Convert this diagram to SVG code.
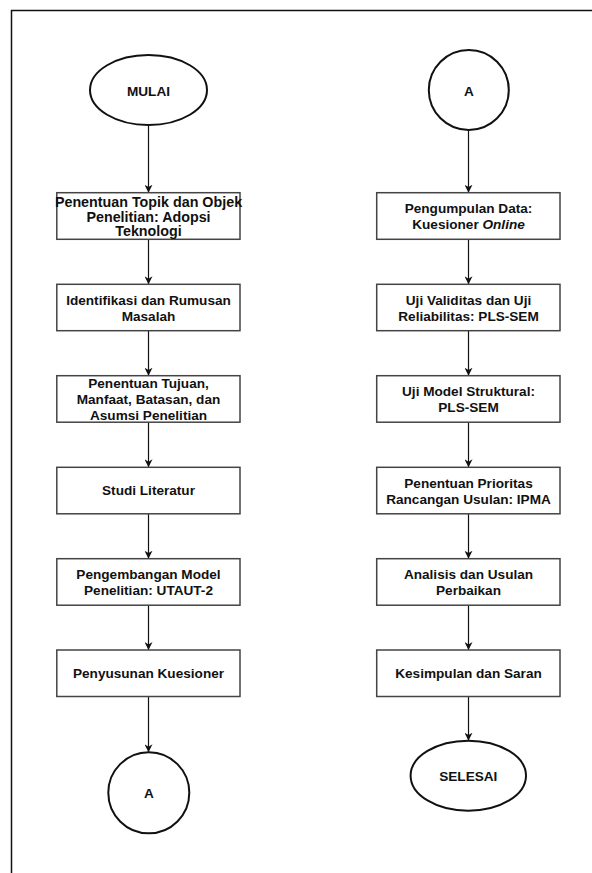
<svg xmlns="http://www.w3.org/2000/svg" width="592" height="873" viewBox="0 0 592 873">
<style>
.box{fill:#fff;stroke:#444;stroke-width:1.5}
.term{fill:#fff;stroke:#111;stroke-width:2}
.t{font-family:"Liberation Sans",Arial,Helvetica,sans-serif;font-weight:bold;font-size:13.6px;fill:#111;text-anchor:middle}
.big{font-size:14.3px}
.c{stroke:#111;stroke-width:1.2;fill:none;marker-end:url(#ah)}
</style>
<defs>
<marker id="ah" viewBox="0 0 10 10" refX="10" refY="5" markerWidth="8" markerHeight="8" markerUnits="userSpaceOnUse" orient="auto">
<path d="M0,0 L10,5 L0,10 L3,5 Z" fill="#111"/>
</marker>
</defs>
<rect width="592" height="873" fill="#fff"/>
<path d="M11.5,873 L11.5,10.5 L592,10.5" fill="none" stroke="#111" stroke-width="1.5"/>

<g id="connectors">
<line class="c" x1="148.5" y1="125" x2="148.5" y2="192.7"/>
<line class="c" x1="148.5" y1="239.3" x2="148.5" y2="284.3"/>
<line class="c" x1="148.5" y1="330.7" x2="148.5" y2="375.7"/>
<line class="c" x1="148.5" y1="422.2" x2="148.5" y2="467.3"/>
<line class="c" x1="148.5" y1="513.8" x2="148.5" y2="558.7"/>
<line class="c" x1="148.5" y1="605.2" x2="148.5" y2="650"/>
<line class="c" x1="148.5" y1="696.5" x2="148.5" y2="752.3"/>
<line class="c" x1="468.5" y1="130" x2="468.5" y2="192.7"/>
<line class="c" x1="468.5" y1="239.3" x2="468.5" y2="284.3"/>
<line class="c" x1="468.5" y1="330.7" x2="468.5" y2="375.7"/>
<line class="c" x1="468.5" y1="422.2" x2="468.5" y2="467.3"/>
<line class="c" x1="468.5" y1="513.8" x2="468.5" y2="558.7"/>
<line class="c" x1="468.5" y1="605.2" x2="468.5" y2="650"/>
<line class="c" x1="468.5" y1="696.5" x2="468.5" y2="740.7"/>
</g>

<g id="mulai">
<ellipse class="term" cx="148.5" cy="90" rx="58.5" ry="35"/>
<text class="t" x="148.5" y="95.5">MULAI</text>
</g>
<g id="topik">
<rect class="box" x="56.8" y="192.7" width="183.2" height="46.6"/>
<text class="t big" x="148.5" y="206.7">Penentuan Topik dan Objek</text>
<text class="t big" x="148.5" y="221.7">Penelitian: Adopsi</text>
<text class="t big" x="148.5" y="236.2">Teknologi</text>
</g>
<g id="identifikasi">
<rect class="box" x="56.8" y="284.3" width="183.2" height="46.4"/>
<text class="t" x="148.5" y="304.8">Identifikasi dan Rumusan</text>
<text class="t" x="148.5" y="320.8">Masalah</text>
</g>
<g id="tujuan">
<rect class="box" x="56.8" y="375.7" width="183.2" height="46.5"/>
<text class="t" x="148.5" y="388">Penentuan Tujuan,</text>
<text class="t" x="148.5" y="404">Manfaat, Batasan, dan</text>
<text class="t" x="148.5" y="419.7">Asumsi Penelitian</text>
</g>
<g id="literatur">
<rect class="box" x="56.8" y="467.3" width="183.2" height="46.5"/>
<text class="t" x="148.5" y="494.8">Studi Literatur</text>
</g>
<g id="model">
<rect class="box" x="56.8" y="558.7" width="183.2" height="46.5"/>
<text class="t" x="148.5" y="578.5">Pengembangan Model</text>
<text class="t" x="148.5" y="594.5">Penelitian: UTAUT-2</text>
</g>
<g id="kuesioner">
<rect class="box" x="56.8" y="650" width="183.2" height="46.5"/>
<text class="t" x="148.5" y="677.8">Penyusunan Kuesioner</text>
</g>
<g id="a-out">
<circle class="term" cx="148.8" cy="792.8" r="40.5"/>
<text class="t" x="148.8" y="798">A</text>
</g>

<g id="a-in">
<circle class="term" cx="468.8" cy="90" r="40"/>
<text class="t" x="468.8" y="96">A</text>
</g>
<g id="pengumpulan">
<rect class="box" x="376.7" y="192.7" width="183.3" height="46.6"/>
<text class="t" x="468.5" y="213.2">Pengumpulan Data:</text>
<text class="t" x="468.5" y="229.2">Kuesioner <tspan font-style="italic">Online</tspan></text>
</g>
<g id="validitas">
<rect class="box" x="376.7" y="284.3" width="183.3" height="46.4"/>
<text class="t" x="468.5" y="304.8">Uji Validitas dan Uji</text>
<text class="t" x="468.5" y="320.8">Reliabilitas: PLS-SEM</text>
</g>
<g id="struktural">
<rect class="box" x="376.7" y="375.7" width="183.3" height="46.5"/>
<text class="t" x="468.5" y="396.2">Uji Model Struktural:</text>
<text class="t" x="468.5" y="412.2">PLS-SEM</text>
</g>
<g id="prioritas">
<rect class="box" x="376.7" y="467.3" width="183.3" height="46.5"/>
<text class="t" x="468.5" y="487.8">Penentuan Prioritas</text>
<text class="t" x="468.5" y="503.8">Rancangan Usulan: IPMA</text>
</g>
<g id="analisis">
<rect class="box" x="376.7" y="558.7" width="183.3" height="46.5"/>
<text class="t" x="468.5" y="578.5">Analisis dan Usulan</text>
<text class="t" x="468.5" y="594.5">Perbaikan</text>
</g>
<g id="kesimpulan">
<rect class="box" x="376.7" y="650" width="183.3" height="46.5"/>
<text class="t" x="468.5" y="677.8">Kesimpulan dan Saran</text>
</g>
<g id="selesai">
<ellipse class="term" cx="468.3" cy="775.7" rx="57.7" ry="35"/>
<text class="t" x="468.3" y="781">SELESAI</text>
</g>
</svg>
